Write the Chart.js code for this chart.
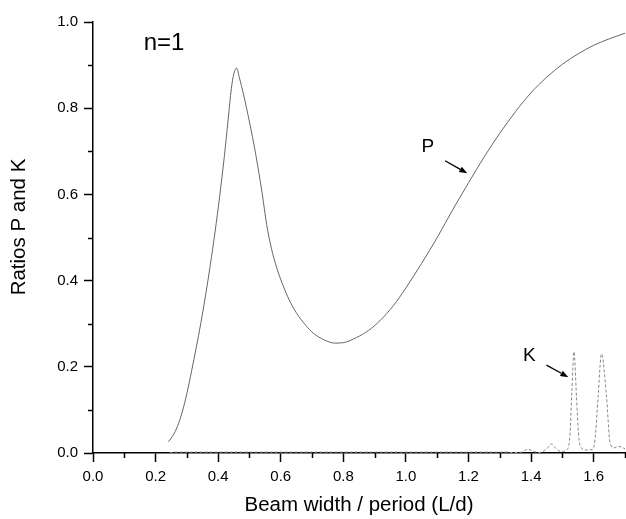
<!DOCTYPE html>
<html>
<head>
<meta charset="utf-8">
<script src="https://cdn.jsdelivr.net/npm/chart.js@4.4.0/dist/chart.umd.min.js"></script>
<style>
  html, body { margin: 0; padding: 0; background: #fff; }
  #wrap { width: 626px; height: 519px; }
</style>
</head>
<body>
<div id="wrap"><canvas id="chart" width="626" height="519"></canvas></div>
<script>
// curve P (solid)
const pX = [0.241, 0.255, 0.270, 0.285, 0.300, 0.315, 0.330, 0.345, 0.360, 0.375, 0.390, 0.405, 0.420, 0.432, 0.442, 0.450, 0.459, 0.468, 0.480, 0.500, 0.520, 0.540, 0.555, 0.570, 0.587, 0.605, 0.627, 0.651, 0.680, 0.704, 0.740, 0.773, 0.800, 0.842, 0.880, 0.917, 0.960, 1.00, 1.05, 1.10, 1.15, 1.20, 1.25, 1.30, 1.35, 1.40, 1.45, 1.50, 1.55, 1.60, 1.65, 1.70];
const pY = [0.026, 0.040, 0.062, 0.095, 0.138, 0.190, 0.245, 0.303, 0.367, 0.437, 0.513, 0.597, 0.690, 0.775, 0.845, 0.880, 0.893, 0.870, 0.835, 0.768, 0.693, 0.605, 0.530, 0.475, 0.430, 0.393, 0.355, 0.324, 0.296, 0.278, 0.262, 0.255, 0.256, 0.268, 0.284, 0.307, 0.342, 0.383, 0.440, 0.500, 0.565, 0.627, 0.687, 0.742, 0.792, 0.836, 0.872, 0.902, 0.926, 0.946, 0.961, 0.974];

// curve K (dashed)
const kX = [0.245, 0.26, 0.6, 0.9, 1.2, 1.32, 1.34, 1.37, 1.39, 1.41, 1.43, 1.45, 1.465, 1.48, 1.497, 1.512, 1.524, 1.530, 1.537, 1.545, 1.552, 1.560, 1.575, 1.595, 1.604, 1.614, 1.625, 1.641, 1.652, 1.665, 1.68, 1.70];
const kY = [0.0, 0.002, 0.002, 0.002, 0.002, 0.002, 0.001, 0.002, 0.009, 0.003, 0.001, 0.010, 0.021, 0.010, 0.003, 0.006, 0.04, 0.14, 0.235, 0.13, 0.04, 0.012, 0.007, 0.008, 0.03, 0.13, 0.23, 0.13, 0.025, 0.012, 0.015, 0.01];

// annotations (data coords)
const notes = [
  { text: 'n=1', x: 0.227, y: 0.95, size: 24 },
  { text: 'P', x: 1.070, y: 0.710, size: 19 },
  { text: 'K', x: 1.394, y: 0.226, size: 19 }
];
const arrows = [
  { x0: 1.125, y0: 0.678, x1: 1.196, y1: 0.649 },
  { x0: 1.449, y0: 0.204, x1: 1.519, y1: 0.176 }
];

const FONT = "'Liberation Sans', Arial, sans-serif";

const toPts = (xs, ys) => xs.map((x, i) => ({ x: x, y: ys[i] }));
const isMajor = v => Math.round(v * 10) % 2 === 0;

// minor ticks, labels, arrows
const extras = {
  id: 'extras',
  afterDraw(chart) {
    const { ctx, chartArea: { left, top, bottom }, scales: { x, y } } = chart;
    ctx.save();
    ctx.strokeStyle = '#000';
    ctx.lineWidth = 1.5;
    x.ticks.forEach(t => {
      if (isMajor(t.value)) return;
      const px = Math.round(x.getPixelForValue(t.value)) + 0.5;
      ctx.beginPath(); ctx.moveTo(px, bottom); ctx.lineTo(px, bottom + 5); ctx.stroke();
    });
    y.ticks.forEach(t => {
      if (isMajor(t.value)) return;
      const py = Math.round(y.getPixelForValue(t.value)) + 0.5;
      ctx.beginPath(); ctx.moveTo(left, py); ctx.lineTo(left - 5, py); ctx.stroke();
    });

    // y title
    ctx.fillStyle = '#000';
    ctx.font = '20.5px ' + FONT;
    ctx.textAlign = 'center';
    ctx.textBaseline = 'middle';
    ctx.translate(19, 227);
    ctx.rotate(-Math.PI / 2);
    ctx.fillText('Ratios P and K', 0, 0);
    ctx.restore();

    ctx.save();
    ctx.fillStyle = '#000';
    ctx.textAlign = 'center';
    ctx.textBaseline = 'middle';
    notes.forEach(n => {
      ctx.font = n.size + 'px ' + FONT;
      ctx.fillText(n.text, x.getPixelForValue(n.x), y.getPixelForValue(n.y));
    });
    ctx.strokeStyle = '#000';
    ctx.lineWidth = 1.3;
    arrows.forEach(a => {
      const x0 = x.getPixelForValue(a.x0), y0 = y.getPixelForValue(a.y0);
      const x1 = x.getPixelForValue(a.x1), y1 = y.getPixelForValue(a.y1);
      const ang = Math.atan2(y1 - y0, x1 - x0);
      const hl = 8, hw = 3;
      const bx = x1 - hl * Math.cos(ang), by = y1 - hl * Math.sin(ang);
      ctx.beginPath(); ctx.moveTo(x0, y0); ctx.lineTo(bx, by); ctx.stroke();
      ctx.beginPath();
      ctx.moveTo(x1, y1);
      ctx.lineTo(bx + hw * Math.sin(ang), by - hw * Math.cos(ang));
      ctx.lineTo(bx - hw * Math.sin(ang), by + hw * Math.cos(ang));
      ctx.closePath();
      ctx.fill();
    });
    ctx.restore();
  }
};

const axisCommon = {
  type: 'linear',
  min: 0,
  ticks: {
    stepSize: 0.1,
    color: '#000',
    padding: 6,
    autoSkip: false,
    maxRotation: 0,
    font: { family: FONT, size: 15 },
    callback: v => isMajor(v) ? v.toFixed(1) : ''
  },
  grid: {
    drawOnChartArea: false,
    drawTicks: true,
    tickLength: 9,
    tickWidth: 1.5,
    tickColor: c => (c.tick && isMajor(c.tick.value)) ? '#000' : 'rgba(0,0,0,0)'
  },
  border: { display: true, color: '#000', width: 1.5 }
};

const config = {
  type: 'scatter',
  data: {
    datasets: [
      {
        label: 'P',
        data: toPts(pX, pY),
        showLine: true,
        borderColor: '#666',
        borderWidth: 1,
        pointRadius: 0,
        cubicInterpolationMode: 'monotone'
      },
      {
        label: 'K',
        data: toPts(kX, kY),
        showLine: true,
        borderColor: '#888',
        borderWidth: 1,
        borderDash: [3, 2],
        pointRadius: 0,
        cubicInterpolationMode: 'monotone'
      }
    ]
  },
  options: {
    responsive: false,
    animation: false,
    layout: { padding: { top: 22, right: 1, left: 0, bottom: 0 } },
    plugins: { legend: { display: false }, tooltip: { enabled: false } },
    scales: {
      x: Object.assign({}, axisCommon, {
        position: 'bottom',
        max: 1.7,
        title: {
          display: true,
          text: 'Beam width / period (L/d)',
          color: '#000',
          font: { family: FONT, size: 20.5 },
          padding: { top: 0, bottom: 1 }
        },
        afterFit: s => { s.height = 66; s.paddingLeft = 0; s.paddingRight = 0; }
      }),
      y: Object.assign({}, axisCommon, {
        position: 'left',
        max: 1.0,
        afterFit: s => { s.width = 93; }
      })
    }
  },
  plugins: [extras]
};

const myChart = new Chart(document.getElementById('chart'), config);
</script>
</body>
</html>
